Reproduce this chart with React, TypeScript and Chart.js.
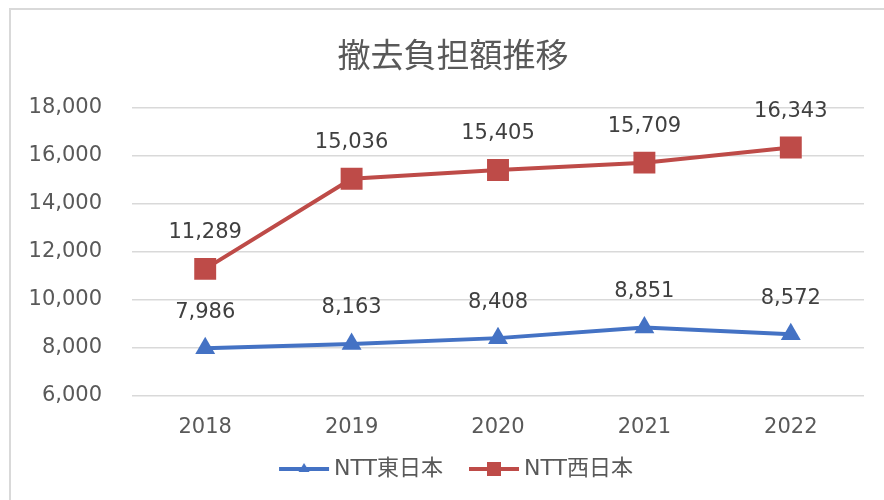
import React, { useEffect, useRef } from "react";
import { Chart, registerables } from "chart.js";

Chart.register(...registerables);

const TITLE = "撤去負担額推移";
const CATEGORIES = ["2018", "2019", "2020", "2021", "2022"];
const EAST_LABEL = "NTT東日本";
const WEST_LABEL = "NTT西日本";
const EAST_VALUES = [7986, 8163, 8408, 8851, 8572];
const WEST_VALUES = [11289, 15036, 15405, 15709, 16343];
const Y_MIN = 6000;
const Y_MAX = 18000;
const Y_STEP = 2000;

const BLUE = "#4472C4";
const RED = "#BE4B48";
const TEXT = "#595959";
const FONT = "'DejaVu Sans', 'Noto Sans CJK JP', sans-serif";

function legendIcon(color: string, marker: "triangle" | "rect"): HTMLCanvasElement {
  const c = document.createElement("canvas");
  c.width = 64;
  c.height = 18;
  const ctx = c.getContext("2d")!;
  ctx.strokeStyle = color;
  ctx.lineWidth = 4;
  ctx.lineCap = "butt";
  ctx.beginPath();
  ctx.moveTo(13, 9);
  ctx.lineTo(63, 9);
  ctx.stroke();
  ctx.fillStyle = color;
  if (marker === "triangle") {
    ctx.beginPath();
    ctx.moveTo(38, 3);
    ctx.lineTo(43.5, 12);
    ctx.lineTo(32.5, 12);
    ctx.closePath();
    ctx.fill();
  } else {
    ctx.fillRect(31, 2, 14, 14);
  }
  return c;
}

const dataLabels = {
  id: "dataLabels",
  afterDatasetsDraw(chart: any) {
    const ctx = chart.ctx;
    ctx.save();
    ctx.font = `21px ${FONT}`;
    ctx.fillStyle = "#404040";
    ctx.textAlign = "center";
    ctx.textBaseline = "middle";
    chart.data.datasets.forEach((ds: any, i: number) => {
      const meta = chart.getDatasetMeta(i);
      meta.data.forEach((pt: any, j: number) => {
        const v = ds.data[j] as number;
        ctx.fillText(v.toLocaleString("en-US"), pt.x, pt.y - 36);
      });
    });
    ctx.restore();
  },
};

// widen the y-axis label clip area so long tick labels are not cut
const widenYLabels = {
  id: "widenYLabels",
  afterLayout(chart: any) {
    const y = chart.scales.y;
    if (y) {
      const right = y.right;
      y.left = 0;
      y.width = right;
    }
  },
};

export default function App() {
  const ref = useRef<HTMLCanvasElement>(null);

  useEffect(() => {
    const eastIcon = legendIcon(BLUE, "triangle");
    const westIcon = legendIcon(RED, "rect");
    const chart = new Chart(ref.current!, {
      type: "line",
      data: {
        labels: CATEGORIES,
        datasets: [
          {
            label: EAST_LABEL,
            data: EAST_VALUES,
            borderColor: BLUE,
            backgroundColor: BLUE,
            borderWidth: 4,
            pointStyle: "triangle",
            pointRadius: 11.5,
            pointBorderWidth: 0,
            pointBackgroundColor: BLUE,
            tension: 0,
          },
          {
            label: WEST_LABEL,
            data: WEST_VALUES,
            borderColor: RED,
            backgroundColor: RED,
            borderWidth: 4,
            pointStyle: "rect",
            pointRadius: 15.5,
            pointBorderWidth: 0,
            pointBackgroundColor: RED,
            tension: 0,
          },
        ],
      },
      options: {
        responsive: false,
        animation: false,
        layout: { padding: { left: 42, right: 20, top: 0, bottom: 10 } },
        plugins: {
          title: {
            display: true,
            text: TITLE,
            color: TEXT,
            font: { family: "'Noto Sans CJK JP', sans-serif", size: 33, weight: "normal" },
            padding: { top: 35, bottom: 33 },
          },
          legend: {
            position: "bottom",
            labels: {
              usePointStyle: true,
              pointStyleWidth: 50,
              padding: 20,
              color: TEXT,
              font: { family: FONT, size: 22 },
              generateLabels: () => [
                { text: EAST_LABEL, pointStyle: eastIcon, fillStyle: BLUE, strokeStyle: BLUE, lineWidth: 0, fontColor: TEXT, datasetIndex: 0, hidden: false },
                { text: WEST_LABEL, pointStyle: westIcon, fillStyle: RED, strokeStyle: RED, lineWidth: 0, fontColor: TEXT, datasetIndex: 1, hidden: false },
              ] as any,
            },
          },
          tooltip: { enabled: false },
        },
        scales: {
          x: {
            offset: true,
            grid: { display: false, drawTicks: false },
            border: { display: false },
            ticks: { color: TEXT, font: { family: FONT, size: 21 }, padding: 19 },
            afterFit: (s: any) => { s.height = 42; },
          },
          y: {
            min: Y_MIN,
            max: Y_MAX,
            grid: { color: "#d9d9d9", lineWidth: 1.5, drawTicks: false },
            border: { display: false },
            ticks: {
              stepSize: Y_STEP,
              color: TEXT,
              font: { family: FONT, size: 21 },
              padding: 30,
              callback: (v: any) => Number(v).toLocaleString("en-US"),
            },
            afterFit: (s: any) => { s.width = 90; },
          },
        },
      },
      plugins: [dataLabels, widenYLabels],
    });
    return () => chart.destroy();
  }, []);

  return (
    <div style={{ position: "fixed", left: 0, top: 0, width: 884, height: 500, overflow: "hidden", background: "#fff" }}>
      <div style={{ position: "absolute", left: 9, top: 8, width: 900, height: 520, border: "2px solid #d9d9d9", boxSizing: "border-box" }} />
      <canvas ref={ref} width={884} height={500} style={{ position: "absolute", left: 0, top: 0 }} />
    </div>
  );
}
